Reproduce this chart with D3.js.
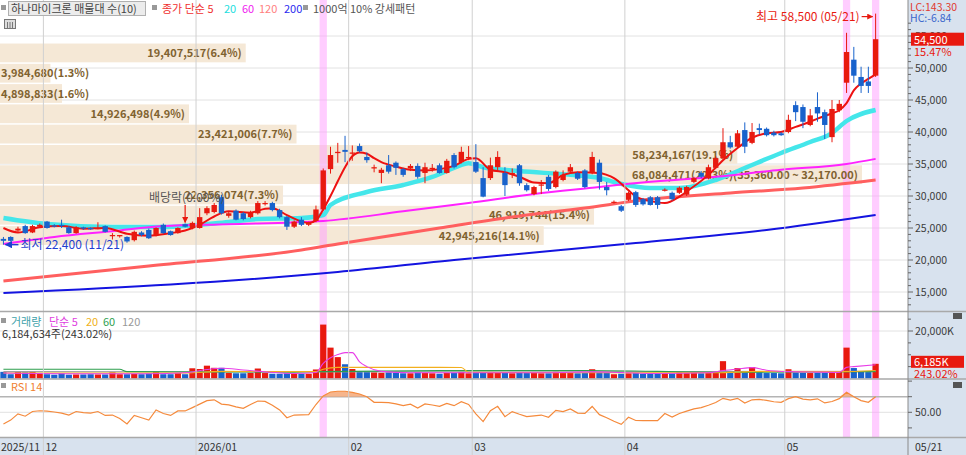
<!DOCTYPE html>
<html>
<head>
<meta charset="utf-8">
<script src="https://cdn.jsdelivr.net/npm/d3@7"></script>
<style>
body { margin: 0; background: #fff; }
svg { display: block; }
</style>
</head>
<body>
<div id="chart"></div>
<script>
(function () {

"use strict";

var dates = [
  "2025/11/21","2025/11/24","2025/11/25","2025/11/26","2025/11/27","2025/11/28",
  "2025/12/01","2025/12/02","2025/12/03","2025/12/04","2025/12/05","2025/12/08","2025/12/09","2025/12/10","2025/12/11","2025/12/12",
  "2025/12/15","2025/12/16","2025/12/17","2025/12/18","2025/12/19","2025/12/22","2025/12/23","2025/12/24","2025/12/26","2025/12/29","2025/12/30",
  "2026/01/02","2026/01/05","2026/01/06","2026/01/07","2026/01/08","2026/01/09","2026/01/12","2026/01/13","2026/01/14","2026/01/15","2026/01/16",
  "2026/01/19","2026/01/20","2026/01/21","2026/01/22","2026/01/23","2026/01/26","2026/01/27","2026/01/28","2026/01/29","2026/01/30",
  "2026/02/02","2026/02/03","2026/02/04","2026/02/05","2026/02/06","2026/02/09","2026/02/10","2026/02/11","2026/02/12","2026/02/13",
  "2026/02/19","2026/02/20","2026/02/23","2026/02/24","2026/02/25","2026/02/26","2026/02/27",
  "2026/03/03","2026/03/04","2026/03/05","2026/03/06","2026/03/09","2026/03/10","2026/03/11","2026/03/12","2026/03/13","2026/03/16","2026/03/17",
  "2026/03/18","2026/03/19","2026/03/20","2026/03/23","2026/03/24","2026/03/25","2026/03/26","2026/03/27","2026/03/30","2026/03/31",
  "2026/04/01","2026/04/02","2026/04/03","2026/04/06","2026/04/07","2026/04/08","2026/04/09","2026/04/10","2026/04/13","2026/04/14","2026/04/15",
  "2026/04/16","2026/04/17","2026/04/20","2026/04/21","2026/04/22","2026/04/23","2026/04/24","2026/04/27","2026/04/28","2026/04/29","2026/04/30",
  "2026/05/04","2026/05/06","2026/05/07","2026/05/08","2026/05/11","2026/05/12","2026/05/13","2026/05/14","2026/05/15","2026/05/18","2026/05/19",
  "2026/05/20","2026/05/21"
]

var opens = [
  23300,23600,24600,25300,24300,25200,26000,25400,25500,25100,
  24200,25100,25000,24900,25300,23800,23700,23600,23100,24300,
  24700,23900,25500,24500,24200,25600,25000,25000,27300,27500,
  29800,26900,27700,27300,26700,27300,28800,28900,27800,26700,
  25200,26300,25500,26100,27900,34200,36700,37200,36600,37800,
  36100,34300,33600,34800,35200,34200,34300,34700,33600,34300,
  34800,33600,36400,35300,36000,35300,32800,32800,34500,33600,
  33500,34800,31700,30300,31700,33000,31400,32500,33800,33600,
  34000,33600,35200,31400,29000,28400,29400,30600,29500,29800,
  29800,30900,30500,30500,30200,32200,33600,32800,34400,35900,
  38400,37700,40300,38300,40600,40500,39900,39800,40000,44200,
  43900,41100,43900,43100,39200,43400,47700,51300,48600,47900,
  48800
]
var highs = [
  23600,23700,25200,25500,25500,25700,26100,25600,26300,25300,
  25300,25200,25100,25900,25400,24200,23900,23700,24600,24500,
  24900,25100,25700,24600,25100,25700,26000,28100,28400,28900,
  30200,27600,27900,27500,27700,29200,29200,29100,28000,26900,
  26200,26700,26000,28500,34300,37700,38300,39400,37900,38200,
  36800,34900,34400,36400,35400,34400,35000,35100,35200,35000,
  35100,35800,36700,37700,37800,38100,34500,36000,37000,34500,
  34300,35000,32000,31600,32500,33300,34000,34000,35000,33800,
  34200,36900,35700,32200,29300,28600,30700,30800,29700,30000,
  30000,31200,30700,31500,31600,33000,33900,34900,36200,40600,
  39400,40300,41500,41400,41300,40700,40200,40000,42700,44800,
  44300,43600,46200,43500,45000,45000,55500,53300,50200,50200,
  58500
]
var lows = [
  22400,22900,24400,24100,24200,25000,24900,25100,25000,24100,
  24100,24700,24700,24800,24300,23200,23500,22700,22900,23700,
  23300,23700,24100,23800,24100,25100,24800,24900,27000,27300,
  27100,26600,26200,26200,26500,27100,28500,27600,26500,24700,
  25000,25300,25300,25900,27700,33500,35200,35300,35500,36800,
  35200,33700,32000,33500,33300,33000,33900,32700,32000,33800,
  33500,33500,34300,35100,35600,33600,29800,32500,34000,30000,
  32800,31600,30700,30100,30300,30800,31200,32300,33600,32500,
  31200,33400,31000,30100,28800,27500,29200,28300,28500,28500,
  28000,30700,29300,30300,30000,32000,32800,32600,34200,35700,
  37400,37500,36700,38100,39600,39300,39300,39400,39800,41700,
  40600,40900,41600,38900,38400,43100,46100,47700,46100,46100,
  48600
]
var closes = [
  23000,23000,24900,24200,25300,25500,25000,25300,25300,24200,
  25100,24900,24800,25000,24400,23900,23900,22900,24400,23900,
  23400,25000,24200,23900,25000,25200,25800,26700,28100,28600,
  27300,27300,26300,26400,27500,28900,28900,27800,26700,25200,
  26000,25500,25900,27900,34000,36400,36900,36900,36800,37000,
  35600,34500,34100,33800,34400,33300,34700,33000,34500,34400,
  33600,35500,34500,36900,36100,33800,29900,34800,36100,31700,
  33600,32000,30900,31400,31800,31100,33800,33300,34500,32700,
  31400,36100,32200,30900,29100,27700,30500,28600,28700,28600,
  28600,31000,29500,31300,31400,32800,33000,34500,35900,38400,
  37600,39800,37700,40000,40300,39500,39500,39500,41900,43100,
  41600,42600,42900,41100,43600,44400,52500,48800,47200,47200,
  54500
]

// volume in thousands of shares
var volumes = [
  2800,1800,3000,2600,3000,2000,1800,1600,2200,1600,
  1700,1700,1800,1700,1700,2600,1800,1800,1900,1800,
  2100,3000,1800,1800,2300,1800,4300,4000,5400,4500,
  4500,2400,2200,2200,2400,4200,2300,2000,2000,2200,
  2000,2000,2000,3800,22700,13000,9000,6000,4000,3000,
  3000,2600,2400,2600,2400,2200,2200,2600,2400,2200,
  2000,2400,2400,2800,2200,2400,2700,2800,2600,2500,
  2200,2600,2300,2400,2200,2200,2900,2300,2400,2200,
  2300,3900,2600,2400,1800,2000,2200,2300,2000,2000,
  2000,2200,2100,2600,2300,2600,2200,2300,2600,7300,
  3200,4400,3200,4800,2600,2300,2300,2200,3900,2500,
  2400,2300,2400,2500,2800,2800,13000,4400,2800,2700,
  6185
]

var rsi = [
  35,40,48,45,51,52,51.5,50.4,49,46.5,
  51,49.5,49,51,46,46.5,42,35,46,43,
  40,53,48.5,46,51.7,51.7,56,60.5,65,66,
  60.5,59.5,57,55,60,64.5,64,59,53,43,
  46.5,46.8,47,60,71,76,77,77,75.6,73.5,
  70,62.8,62.6,62.4,60.7,58.5,60.5,55.5,60.7,59.4,
  57.7,61.5,58.5,63.5,60,48,38,52,57.7,44.4,
  50.9,47.5,44.4,45.5,46.5,43.6,52.5,50.9,54.4,49,
  48.7,57.5,47,43,38.5,34.6,43.6,39.5,39.2,39.2,
  39.2,48.5,44,48.5,51.5,54.4,56,59,62.5,67.9,
  65.7,67.9,61.8,66,66.6,65.2,63.5,62.8,67.5,70,
  67,66,67.3,62,63.8,67.5,75.6,70,65,62.8,
  70
]

// moving averages as [day index, value]
var ma5 = [[0,25000],[2,24300],[5,25100],[8,25300],[11,24900],[14,25000],[17,24100],[20,23800],[23,24200],[25,24600],
  [27,25500],[29,26800],[31,27600],[34,27400],[36,28000],[37,28100],[39,27000],[41,26000],[42,25800],[43,26200],
  [44,27900],[45,30000],[46,32300],[47,34500],[48,36200],[49,36800],[50,36600],[51,35900],[52,35300],[54,34600],
  [56,34100],[58,34000],[60,34200],[62,34700],[64,35800],[65,35900],[67,34100],[69,33700],[71,33000],[73,32100],
  [75,32000],[77,33300],[79,33700],[82,33600],[83,33300],[84,32800],[86,30900],[87,29900],[89,29200],[91,28900],
  [93,29900],[94,30700],[97,33300],[99,35600],[101,37500],[103,39100],[105,39800],[107,40000],[109,40800],[111,41600],
  [112,42100],[114,42900],[115,43400],[116,44500],[117,46500],[118,47600],[119,48300],[120,49000]]
var ma20 = [[0,26560],[6,25620],[15,25160],[22,25160],[31,25940],[35,26400],[41,26560],[44,27030],[45,28600],[50,30620],
  [55,31720],[59,32970],[62,34380],[64,35100],[66,34500],[71,33900],[78,33300],[82,32800],[85,31900],[89,31250],
  [93,31250],[98,32500],[102,34380],[107,36720],[111,38440],[114,39840],[116,41720],[120,43440]]
var ma60 = [[0,22500],[7,23600],[15,24500],[22,25300],[31,25600],[44,26100],[55,27600],[64,28900],[73,30300],
  [82,31400],[86,31900],[98,33000],[107,34100],[116,35000],[120,35800]]
var ma120 = [[0,16720],[20,19060],[41,21560],[46,22500],[60,25000],[70,26720],[80,28120],[88,29370],[100,30470],
  [110,31250],[120,32500]]
var ma200 = [[0,14840],[46,18125],[62,20000],[87,22660],[105,24690],[120,27030]]

var volMa5 = [[0,2300],[10,2000],[20,2000],[25,2400],[28,3800],[30,4300],[33,3600],[36,2800],[40,2100],[43,2500],
  [44,6400],[45,8700],[46,10100],[47,10900],[48,10900],[49,7000],[50,5000],[52,3000],[56,2400],[65,2400],[75,2400],
  [81,2800],[85,2500],[90,2100],[97,2400],[99,3300],[101,4000],[103,4600],[105,3500],[108,2900],[112,2700],[115,2600],
  [116,4700],[117,5000],[120,5800]]
var volMa20 = [[0,2300],[25,2300],[30,3000],[43,2900],[44,3900],[46,4700],[60,4700],[63,4600],[64,2600],[80,2400],
  [98,2400],[104,3000],[115,2900],[120,3400]]
var volMa60 = [[0,3900],[16,3900],[17,2900],[40,2700],[44,2900],[60,3300],[80,3400],[100,2600],[120,2900]]
var volMa120 = [[0,2900],[60,2800],[120,3000]]

// price-volume profile (매물대), top band first
var profileVolumes = [19407517, 3984680, 4898833, 14926498, 23421006, 58234167, 68084471, 22356074, 46919744, 42945216]
var profilePercents = ["6.4", "1.3", "1.6", "4.9", "7.7", "19.1", "22.3", "7.3", "15.4", "14.1"]
var profileEdges = [53900, 50730, 47560, 44390, 41220, 38050, 34880, 31710, 28540, 25370, 22200]
var maxBandRange = "(35,360.00 ~ 32,170.00)"

var highlightDates = ["2026/01/27", "2026/05/15", "2026/05/21"]
var monthLabels = ["2025/11", "12", "2026/01", "02", "03", "04", "05"]
var priceTicks = [15000, 20000, 25000, 30000, 35000, 40000, 45000, 50000, 55000]

var width = 966, height = 455, plotRight = 908
var red = "#e8190f", blue = "#1862cc", axisBg = "#d8e2ee"
var font = '"Noto Sans CJK KR", "Noto Sans", sans-serif'

var svg = d3.select("#chart").append("svg")
  .attr("width", width).attr("height", height)
  .style("font-family", font)

var x = d3.scaleBand().domain(dates).range([-1.15, 880.2]).padding(0.26)
  , step = x.step()
  , bw = x.bandwidth()
  , cx = function (d) { return x(d) + bw / 2 }
  , ix = function (i) { return cx(dates[i]) }
  , yP = d3.scaleLinear().domain([15000, 55000]).range([292, 36])
  , yV = d3.scaleLinear().domain([0, 20000]).range([378.5, 331])
  , yR = d3.scaleLinear().domain([50, 70]).range([412.3, 396.7])
  , fmt = d3.format(",")

var defs = svg.append("defs")
defs.append("clipPath").attr("id", "plot")
  .append("rect").attr("x", 0).attr("y", 0).attr("width", plotRight).attr("height", 438)
function arrowMarker(id, color) {
  defs.append("marker").attr("id", id).attr("viewBox", "0 0 10 10")
    .attr("refX", 9).attr("refY", 5).attr("markerWidth", 5).attr("markerHeight", 5).attr("orient", "auto")
    .append("path").attr("d", "M0,0L10,5L0,10z").attr("fill", color)
}
arrowMarker("arrRed", red)
arrowMarker("arrBlue", "#1f3fd0")

// axis backgrounds
svg.append("rect").attr("x", plotRight).attr("y", 0).attr("width", width - plotRight).attr("height", height).attr("fill", axisBg)
svg.append("rect").attr("x", 0).attr("y", 438).attr("width", plotRight).attr("height", height - 438).attr("fill", axisBg)

var plot = svg.append("g").attr("clip-path", "url(#plot)")

// grid
plot.selectAll("line.hgrid").data(priceTicks).enter().append("line")
  .attr("x1", 0).attr("x2", plotRight).attr("y1", function (d) { return yP(d) }).attr("y2", function (d) { return yP(d) })
  .style("stroke", "#e2e2e2")
plot.append("line").attr("x1", 0).attr("x2", plotRight).attr("y1", yV(20000)).attr("y2", yV(20000)).style("stroke", "#e2e2e2")
plot.append("line").attr("x1", 0).attr("x2", plotRight).attr("y1", yR(50)).attr("y2", yR(50)).style("stroke", "#e2e2e2")

var monthStarts = dates.filter(function (d, i) { return i === 0 || d.slice(0, 7) !== dates[i - 1].slice(0, 7) })
svg.selectAll("line.vgrid").data(monthStarts.slice(1)).enter().append("line")
  .attr("x1", function (d) { return x(d) - (step - bw) / 2 }).attr("x2", function (d) { return x(d) - (step - bw) / 2 })
  .attr("y1", 0).attr("y2", height)
  .style("stroke", "#d0d0d0")

// price-volume profile bars
var xProf = d3.scaleLinear().domain([0, d3.max(profileVolumes)]).range([0, 862])
plot.selectAll("rect.prof").data(profileVolumes).enter().append("rect")
  .attr("x", 0).attr("width", function (d) { return xProf(d) })
  .attr("y", function (d, i) { return yP(profileEdges[i]) + 0.5 })
  .attr("height", function (d, i) { return yP(profileEdges[i + 1]) - yP(profileEdges[i]) - 1.5 })
  .attr("fill", "#f5e8d6")

// highlighted days
plot.selectAll("rect.hl").data(highlightDates).enter().append("rect")
  .attr("x", function (d) { return cx(d) - step / 2 }).attr("width", step)
  .attr("y", 0).attr("height", 438)
  .attr("fill", "#ff9cff").attr("opacity", 0.5)

// profile labels: right-aligned in the bar, or from the left edge when the bar is too short
plot.selectAll("text.prof").data(profileVolumes).enter().append("text")
  .attr("y", function (d, i) { return (yP(profileEdges[i]) + yP(profileEdges[i + 1])) / 2 + 4 })
  .style("font-size", "11px").style("font-weight", "bold").style("fill", "#80622f")
  .text(function (d, i) { return fmt(d) + "(" + profilePercents[i] + "%)" + (d === d3.max(profileVolumes) ? maxBandRange : "") })
  .each(function (d) {
    var t = d3.select(this), w = this.getComputedTextLength()
    if (xProf(d) - 4 > w + 2) t.attr("x", xProf(d) - 4).attr("text-anchor", "end")
    else t.attr("x", 1).attr("text-anchor", "start")
  })

// moving averages
function maLine(pts, yScale) {
  return d3.line().x(function (p) { return ix(p[0]) }).y(function (p) { return yScale(p[1]) }).curve(d3.curveMonotoneX)(pts)
}
var maStyles = [ [ma200, "#1414e0", 2], [ma120, "#ff5f5f", 3], [ma20, "#44e6ea", 4.5], [ma60, "#ff22ff", 2], [ma5, "#ee1111", 2] ]
maStyles.forEach(function (s) {
  plot.append("path").attr("d", maLine(s[0], yP)).attr("fill", "none")
    .style("stroke", s[1]).style("stroke-width", s[2]).style("stroke-linejoin", "round")
})

// candles
var candles = plot.selectAll("g.candle").data(dates).enter().append("g")
candles.append("line")
  .attr("x1", cx).attr("x2", cx)
  .attr("y1", function (d, i) { return yP(highs[i]) }).attr("y2", function (d, i) { return yP(lows[i]) })
  .style("stroke", function (d, i) { return closes[i] >= opens[i] ? red : blue })
candles.append("rect")
  .attr("x", function (d) { return x(d) }).attr("width", bw)
  .attr("y", function (d, i) { return yP(Math.max(opens[i], closes[i])) })
  .attr("height", function (d, i) { return Math.max(1.2, Math.abs(yP(opens[i]) - yP(closes[i]))) })
  .attr("fill", function (d, i) { return closes[i] >= opens[i] ? red : blue })

// annotations
var hiIdx = highs.indexOf(d3.max(highs)), loIdx = lows.indexOf(d3.min(lows))
svg.append("text").attr("x", ix(hiIdx) - 16).attr("y", yP(highs[hiIdx]) + 7).attr("text-anchor", "end")
  .style("font-size", "12px").style("fill", red)
  .text("최고 " + fmt(highs[hiIdx]) + " (" + dates[hiIdx].slice(5) + ")")
svg.append("line").attr("x1", ix(hiIdx) - 14).attr("x2", ix(hiIdx) - 3)
  .attr("y1", yP(highs[hiIdx]) + 3).attr("y2", yP(highs[hiIdx]) + 3)
  .style("stroke", red).style("stroke-width", 1.2).attr("marker-end", "url(#arrRed)")
svg.append("line").attr("x1", ix(loIdx) + 15).attr("x2", ix(loIdx) + 2)
  .attr("y1", yP(lows[loIdx])).attr("y2", yP(lows[loIdx]))
  .style("stroke", "#1f3fd0").style("stroke-width", 1.5).attr("marker-end", "url(#arrBlue)")
svg.append("text").attr("x", ix(loIdx) + 17).attr("y", yP(lows[loIdx]) + 4)
  .style("font-size", "12px").style("fill", "#1f3fd0")
  .text("최저 " + fmt(lows[loIdx]) + " (" + dates[loIdx].slice(5) + ")")
svg.append("text").attr("x", 149).attr("y", 202).style("font-size", "12px").style("fill", "#555").text("배당락(0.00%)")
svg.append("line").attr("x1", ix(25)).attr("x2", ix(25)).attr("y1", 205).attr("y2", yP(highs[25]) - 1)
  .style("stroke", red).style("stroke-width", 1.2).attr("marker-end", "url(#arrRed)")

// volume
plot.selectAll("rect.vol").data(dates).enter().append("rect")
  .attr("x", function (d) { return x(d) - 0.4 }).attr("width", bw + 0.8)
  .attr("y", function (d, i) { return yV(volumes[i]) })
  .attr("height", function (d, i) { return yV(0) - yV(volumes[i]) })
  .attr("fill", function (d, i) { return closes[i] >= opens[i] ? red : blue })
var volStyles = [ [volMa120, "#a0a0a0"], [volMa60, "#2e9e4e"], [volMa20, "#f2b01e"], [volMa5, "#e83ee8"] ]
volStyles.forEach(function (s) {
  plot.append("path").attr("d", maLine(s[0], yV)).attr("fill", "none").style("stroke", s[1]).style("stroke-width", 1.1)
})

// RSI
plot.append("line").attr("x1", 0).attr("x2", plotRight).attr("y1", yR(70)).attr("y2", yR(70)).style("stroke", "#b4b4b4").style("stroke-width", 1.5)
plot.append("path")
  .attr("d", d3.area().x(function (d, i) { return ix(i) }).y0(yR(70)).y1(function (d) { return yR(Math.max(d, 70)) })(rsi))
  .attr("fill", "#f4a878").attr("opacity", 0.85)
plot.append("path")
  .attr("d", d3.line().x(function (d, i) { return ix(i) }).y(function (d) { return yR(d) })(rsi))
  .attr("fill", "none").style("stroke", "#f58a3c").style("stroke-width", 1.2)

// panel separators and axis line
;[311.5, 379, 437.5].forEach(function (y) {
  svg.append("line").attr("x1", 0).attr("x2", width).attr("y1", y).attr("y2", y).style("stroke", "#a9a9a9").style("stroke-width", 1.5)
})
svg.append("line").attr("x1", plotRight).attr("x2", plotRight).attr("y1", 0).attr("y2", height).style("stroke", "#8a8a8a")

// right axis
var axisText = function (sel) { return sel.style("font-size", "10.5px").style("fill", "#3c3c3c") }
var minor = d3.range(13000, 57001, 1000).filter(function (v) { return yP(v) > 2 && yP(v) < 310 })
svg.selectAll("line.ptick").data(minor).enter().append("line")
  .attr("x1", plotRight).attr("x2", function (v) { return v % 5000 === 0 ? plotRight + 5 : plotRight + 3 })
  .attr("y1", function (v) { return yP(v) }).attr("y2", function (v) { return yP(v) })
  .style("stroke", "#666")
svg.selectAll("text.ptick").data(priceTicks).enter().append("text")
  .attr("x", plotRight + 7).attr("y", function (v) { return yP(v) + 4 })
  .call(axisText).text(function (v) { return fmt(v) })

svg.selectAll("line.vtick").data([5000, 10000, 15000, 20000, 25000]).enter().append("line")
  .attr("x1", plotRight).attr("x2", function (v) { return v === 20000 ? plotRight + 5 : plotRight + 3 })
  .attr("y1", function (v) { return yV(v) }).attr("y2", function (v) { return yV(v) }).style("stroke", "#666")
svg.append("text").attr("x", plotRight + 7).attr("y", yV(20000) + 4).call(axisText).text("20,000K")
svg.selectAll("line.rtick").data([30, 50, 70, 90]).enter().append("line")
  .attr("x1", plotRight).attr("x2", plotRight + 4)
  .attr("y1", function (v) { return yR(v) }).attr("y2", function (v) { return yR(v) }).style("stroke", "#666")
svg.append("text").attr("x", plotRight + 7).attr("y", yR(50) + 4).call(axisText).text("50.00")

// last values on the right axis
var last = closes.length - 1
svg.append("rect").attr("x", plotRight + 3).attr("y", yP(closes[last]) - 6.5).attr("width", 53).attr("height", 13).attr("fill", red)
svg.append("text").attr("x", plotRight + 6).attr("y", yP(closes[last]) + 4.5).style("font-size", "11px").style("fill", "#fff").text(fmt(closes[last]))
svg.append("text").attr("x", plotRight + 6).attr("y", yP(closes[last]) + 17).style("font-size", "11px").style("fill", red).text("15.47%")
svg.append("rect").attr("x", plotRight + 3).attr("y", yV(volumes[last]) - 8).attr("width", 53).attr("height", 12).attr("fill", red)
svg.append("text").attr("x", plotRight + 6).attr("y", yV(volumes[last]) + 2).style("font-size", "11px").style("fill", "#fff").text(fmt(volumes[last]) + "K")
svg.append("text").attr("x", plotRight + 6).attr("y", yV(volumes[last]) + 14).style("font-size", "11px").style("fill", red).text("243.02%")
svg.append("text").attr("x", plotRight + 2).attr("y", 11).style("font-size", "10.5px").style("fill", "#e03a30").text("LC:143.30")
svg.append("text").attr("x", plotRight + 2).attr("y", 22).style("font-size", "10.5px").style("fill", "#3a66cc").text("HC:-6.84")
;[313, 382].forEach(function (y) {
  svg.append("rect").attr("x", 953).attr("y", y).attr("width", 9).attr("height", 6).attr("fill", "#555")
})

// x axis
svg.selectAll("text.month").data(monthStarts).enter().append("text")
  .attr("x", function (d, i) { return i === 0 ? 1 : x(d) - (step - bw) / 2 + 2 })
  .attr("y", 451)
  .style("font-size", "10.5px").style("fill", "#333")
  .text(function (d, i) { return monthLabels[i] })
svg.append("text").attr("x", plotRight + 7).attr("y", 451).style("font-size", "10.5px").style("fill", "#333").text(dates[last].slice(5))

// legends
function square(x0, y0) {
  svg.append("rect").attr("x", x0).attr("y", y0).attr("width", 5).attr("height", 5).attr("fill", "#999")
}
function label(x0, y0, text, color, size) {
  svg.append("text").attr("x", x0).attr("y", y0).style("font-size", (size || 11) + "px").style("fill", color).text(text)
}
square(1, 5)
svg.append("rect").attr("x", 8.5).attr("y", 1.5).attr("width", 137).attr("height", 14).attr("fill", "#ececec").style("stroke", "#b0b0b0")
label(11, 13, "하나마이크론 매물대 수(10)", "#444")
square(152, 5)
label(162, 13, "종가 단순 5", "#f03030")
label(224, 13, "20", "#22dede")
label(242, 13, "60", "#f020f0")
label(259, 13, "120", "#ff8080")
label(284, 13, "200", "#2a2af0")
square(303, 5)
label(313, 13, "1000억 10% 강세패턴", "#555")
svg.append("rect").attr("x", 4.5).attr("y", 19.5).attr("width", 11).attr("height", 9).attr("fill", "#ddd").style("stroke", "#777")
;[7.5, 10, 12.5].forEach(function (xx) {
  svg.append("line").attr("x1", xx).attr("x2", xx).attr("y1", 22).attr("y2", 28).style("stroke", "#777")
})

square(1, 318)
label(11, 326, "거래량", "#3fa2aa")
label(49, 326, "단순 5", "#e040e0")
label(86, 326, "20", "#f0b020")
label(103, 326, "60", "#30a050")
label(122, 326, "120", "#999")
label(2, 338, "6,184,634주(243.02%)", "#333")
square(1, 383)
label(11, 391, "RSI 14", "#f08030")

}())
</script>
</body>
</html>
